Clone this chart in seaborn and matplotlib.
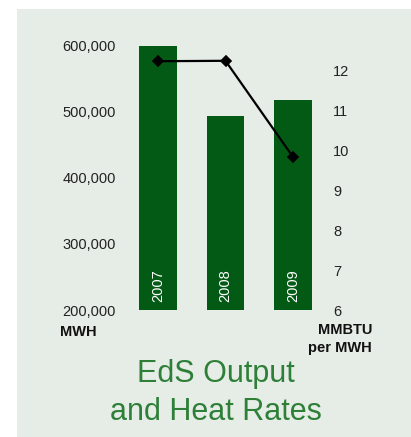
import matplotlib
matplotlib.use("Agg")
import matplotlib.pyplot as plt
from matplotlib.patches import Rectangle
import seaborn as sns
import pandas as pd

years = ["2007", "2008", "2009"]
output_mwh = [600000, 494000, 518000]
heat_rate = [12.22, 12.23, 9.82]
left_ticks = [200000, 300000, 400000, 500000, 600000]
right_ticks = [6, 7, 8, 9, 10, 11, 12]

BAR = "#035a14"
BG = "#e6ece6"
TITLE = "#2e7f38"

sns.set_theme(style="white")
plt.rcParams["font.family"] = ["Liberation Sans", "DejaVu Sans"]

W, H = 411, 437
fig = plt.figure(figsize=(W / 100, H / 100), dpi=100, facecolor="white")
fig.patches.append(Rectangle((17 / W, 0), 1, (H - 9) / H, transform=fig.transFigure,
                             facecolor=BG, edgecolor="none", zorder=-10))

ax = fig.add_axes([124 / W, (H - 310) / H, 203 / W, 264 / H])
ax.set_facecolor("none")

df = pd.DataFrame({"year": years, "mwh": output_mwh, "rate": heat_rate})
sns.barplot(data=df, x="year", y="mwh", color=BAR, width=0.56, saturation=1,
            linewidth=0, edgecolor="none", ax=ax, zorder=1)
ax.set_ylim(200000, 600000)
ax.set_yticks(left_ticks)
ax.set_yticklabels([f"{v:,}" for v in left_ticks])
ax.tick_params(axis="y", length=0, pad=5.8, labelsize=10.5, labelcolor="#222222")
ax.set_xticks([])
ax.set_xlabel("")
ax.set_ylabel("")
for s in ax.spines.values():
    s.set_visible(False)

for i, y in enumerate(years):
    ax.annotate(y, xy=(i, 200000), xytext=(0, 5.5), textcoords="offset points",
                rotation=90, ha="center", va="bottom", color="white", fontsize=10.5)

ax2 = ax.twinx()
ax2.set_facecolor("none")
sns.pointplot(data=df, x="year", y="rate", color="black", markers="D",
              linestyles="-", markersize=5.5, linewidth=1.6, ax=ax2, zorder=3)
ax2.set_ylim(6, 6 + 264 / 40)
ax2.set_yticks(right_ticks)
ax2.set_yticklabels([str(v) for v in right_ticks])
ax2.tick_params(axis="y", length=0, pad=4.3, labelsize=10.5, labelcolor="#222222")
ax2.set_xlabel("")
ax2.set_ylabel("")
for s in ax2.spines.values():
    s.set_visible(False)
ax.set_xlim(-0.5, 2.5)
ax2.set_xlim(-0.5, 2.5)

fig.text(60 / W, 1 - 332 / H, "MWH", fontsize=10.5, fontweight="bold",
         ha="left", va="center", color="#111111")
fig.text(372 / W, 1 - 330 / H, "MMBTU", fontsize=10.5, fontweight="bold",
         ha="right", va="center", color="#111111")
fig.text(372 / W, 1 - 348 / H, "per MWH", fontsize=10.5, fontweight="bold",
         ha="right", va="center", color="#111111")

fig.text(216 / W, 1 - 382 / H, "EdS Output", fontsize=22, color=TITLE,
         ha="center", va="baseline")
fig.text(216 / W, 1 - 420 / H, "and Heat Rates", fontsize=22, color=TITLE,
         ha="center", va="baseline")

fig.savefig("out.png", dpi=100, facecolor="white")
